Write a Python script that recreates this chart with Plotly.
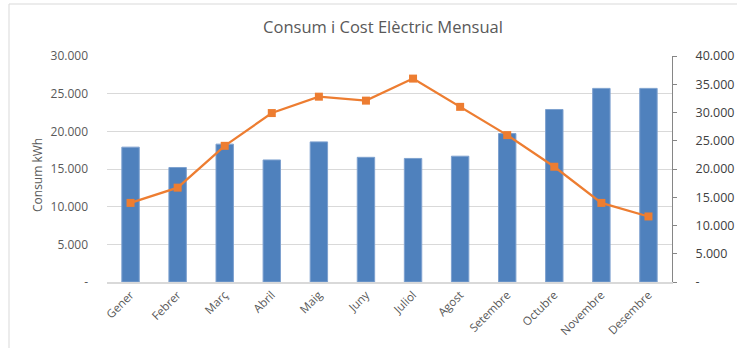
import plotly.graph_objects as go

# Monthly electricity consumption (kWh) and cost
months = ["Gener", "Febrer", "Març", "Abril", "Maig", "Juny",
          "Juliol", "Agost", "Setembre", "Octubre", "Novembre", "Desembre"]
consum_kwh = [17900, 15200, 18300, 16200, 18600, 16550,
              16400, 16700, 19700, 22900, 25700, 25700]
cost = [14000, 16700, 24100, 29900, 32800, 32100,
        36000, 31000, 26000, 20400, 14000, 11600]

left_ticks = [0, 5000, 10000, 15000, 20000, 25000, 30000]
left_labels = ["-", "5.000", "10.000", "15.000", "20.000", "25.000", "30.000"]
right_ticks = [0, 5000, 10000, 15000, 20000, 25000, 30000, 35000, 40000]
right_labels = ["-", "5.000", "10.000", "15.000", "20.000", "25.000",
                "30.000", "35.000", "40.000"]

FONT = "Open Sans"
GREY = "#595959"

fig = go.Figure()
fig.add_trace(go.Bar(
    x=months, y=consum_kwh, name="Consum kWh",
    marker=dict(color="#4F81BD", line=dict(color="#7EA1CF", width=1)),
    width=0.37, yaxis="y",
))
fig.add_trace(go.Scatter(
    x=months, y=cost, name="Cost", mode="lines+markers",
    line=dict(color="#ED7D31", width=2.25),
    marker=dict(symbol="square", size=8, color="#ED7D31"),
    yaxis="y2",
))

W, H = 737, 348
L, R, T, B = 107, 65, 56, 66
pw, ph = W - L - R, H - T - B

fig.update_layout(
    width=W, height=H,
    margin=dict(l=L, r=R, t=T, b=B, pad=0, autoexpand=False),
    paper_bgcolor="white", plot_bgcolor="white",
    showlegend=False,
    font=dict(family=FONT, color=GREY, size=11),
    title=dict(text="Consum i Cost Elèctric Mensual",
               x=383 / W, xref="container", xanchor="center",
               y=1 - 27 / H, yref="container", yanchor="middle",
               font=dict(family=FONT, size=16.5, color=GREY)),
    xaxis=dict(showgrid=False, showline=True, linecolor="#D9D9D9", linewidth=1.5,
               tickangle=-45, ticks="", tickfont=dict(size=11.5, color=GREY),
               range=[-0.5, 11.5], automargin=False),
    yaxis=dict(range=[0, 30000], tickvals=left_ticks, ticktext=left_labels,
               showgrid=True, gridcolor="#D9D9D9", gridwidth=1,
               zeroline=False, showline=False, ticks="",
               ticklabelstandoff=18, automargin=False,
               tickfont=dict(size=12, color=GREY)),
    yaxis2=dict(range=[0, 40000], tickvals=right_ticks, ticktext=right_labels,
                overlaying="y", side="right", showgrid=False, zeroline=False,
                showline=True, linecolor="#868686", linewidth=1,
                ticks="outside", ticklen=4, tickcolor="#868686",
                ticklabelstandoff=16, automargin=False,
                tickfont=dict(size=12.5, color="#404040")),
    annotations=[dict(text="Consum kWh", textangle=-90,
                      xref="paper", yref="paper",
                      x=(37 - L) / pw, y=(H - B - 175) / ph,
                      xanchor="center", yanchor="middle", showarrow=False,
                      font=dict(family=FONT, size=12, color=GREY))],
    shapes=[dict(type="rect", xref="paper", yref="paper",
                 x0=(9 - L) / pw, x1=(760 - L) / pw,
                 y0=(H - B - 400) / ph, y1=(H - B - 4) / ph,
                 line=dict(color="#D9D9D9", width=1), fillcolor="rgba(0,0,0,0)",
                 layer="below")],
)

fig.write_html("out.html")
